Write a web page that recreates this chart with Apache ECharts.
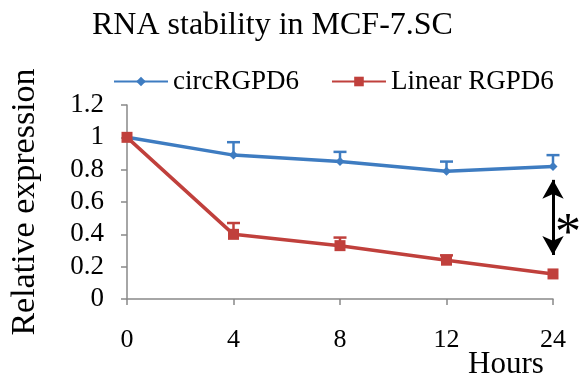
<!DOCTYPE html>
<html>
<head>
<meta charset="utf-8">
<script src="https://cdn.jsdelivr.net/npm/echarts@6/dist/echarts.min.js"></script>
<style>
  html, body { margin: 0; padding: 0; background: #fff; }
  #chart { width: 579px; height: 383px; }
</style>
</head>
<body>
<div id="chart"></div>
<script>
// Data
const hours = ['0', '4', '8', '12', '24'];
const circValues = [1, 0.89, 0.85, 0.79, 0.82];
const circErr = [0, 0.08, 0.06, 0.06, 0.07];
const linearValues = [1, 0.40, 0.33, 0.24, 0.155];
const linearErr = [0, 0.07, 0.05, 0.03, 0];
const yTicks = { min: 0, max: 1.2, interval: 0.2 };
// significance arrow spans between these values at the last time point
const arrowRange = [0.737, 0.272];

const BLUE = '#3e7cc1';
const RED = '#c0403c';
const AXIS = '#898989';
const FONT = 'Liberation Serif';

const txt = (size) => ({ fontFamily: FONT, fontSize: size, fontWeight: 'normal', fontStyle: 'normal', color: '#000' });

const chart = echarts.init(document.getElementById('chart'), null, { renderer: 'canvas' });

// Upper-only error bars with a cap
const errorBars = (values, errs, color) => ({
    type: 'custom',
    silent: true,
    z: 1,
    data: values.map((v, i) => [i, v, v + errs[i]]),
    renderItem: (params, api) => {
        if (api.value(2) - api.value(1) <= 0) return null;
        const base = api.coord([api.value(0), api.value(1)]);
        const top = api.coord([api.value(0), api.value(2)]);
        const hw = 6.5;
        return {
            type: 'group',
            children: [
                { type: 'line', shape: { x1: base[0], y1: base[1], x2: top[0], y2: top[1] }, style: { stroke: color, lineWidth: 2.5 } },
                { type: 'line', shape: { x1: top[0] - hw, y1: top[1], x2: top[0] + hw, y2: top[1] }, style: { stroke: color, lineWidth: 2.5 } }
            ]
        };
    }
});

const option = {
    animation: false,
    textStyle: txt(12),
    title: {
        text: 'RNA stability in MCF-7.SC',
        left: 87,
        top: 5,
        textStyle: txt(32)
    },
    legend: {
        left: 108,
        top: 63,
        itemWidth: 54,
        itemHeight: 12,
        itemGap: 32,
        textStyle: txt(27),
        data: ['circRGPD6', 'Linear RGPD6']
    },
    grid: { left: 126, right: 26, top: 105, bottom: 84 },
    xAxis: {
        type: 'category',
        data: hours,
        boundaryGap: false,
        axisLine: { lineStyle: { color: AXIS, width: 1.5 } },
        axisTick: { show: true, alignWithLabel: true, length: 6, lineStyle: { color: AXIS, width: 1.5 } },
        axisLabel: Object.assign(txt(26), { margin: 28 })
    },
    yAxis: {
        type: 'value',
        min: yTicks.min,
        max: yTicks.max,
        interval: yTicks.interval,
        name: 'Relative expression',
        nameLocation: 'middle',
        nameGap: 85,
        nameTextStyle: txt(34),
        splitLine: { show: false },
        axisLine: { show: true, lineStyle: { color: AXIS, width: 1.5 } },
        axisTick: { show: true, length: 6, lineStyle: { color: AXIS, width: 1.5 } },
        axisLabel: Object.assign(txt(27), { margin: 23 })
    },
    series: [
        errorBars(circValues, circErr, BLUE),
        errorBars(linearValues, linearErr, RED),
        {
            name: 'circRGPD6',
            type: 'line',
            data: circValues,
            symbol: 'diamond',
            symbolSize: 9,
            z: 3,
            itemStyle: { color: BLUE },
            lineStyle: { color: BLUE, width: 3.5 },
            markLine: {
                silent: true,
                symbol: ['arrow', 'arrow'],
                symbolSize: [16, 19],
                label: { show: false },
                lineStyle: { color: '#000', width: 3, type: 'solid' },
                data: [[
                    { coord: [hours.length - 1, arrowRange[0]] },
                    { coord: [hours.length - 1, arrowRange[1]] }
                ]]
            }
        },
        {
            name: 'Linear RGPD6',
            type: 'line',
            data: linearValues,
            symbol: 'rect',
            symbolSize: 11,
            z: 4,
            itemStyle: { color: RED },
            lineStyle: { color: RED, width: 3.5 }
        }
    ],
    graphic: [
        {
            type: 'text',
            x: 506,
            y: 365,
            style: {
                text: 'Hours', fontFamily: FONT, fontSize: 31, fill: '#000',
                align: 'center', verticalAlign: 'middle'
            }
        },
        {
            type: 'text',
            left: 555,
            top: 209,
            style: { text: '*', font: '52px "Liberation Serif"', fill: '#000' }
        }
    ]
};

chart.setOption(option);
</script>
</body>
</html>
